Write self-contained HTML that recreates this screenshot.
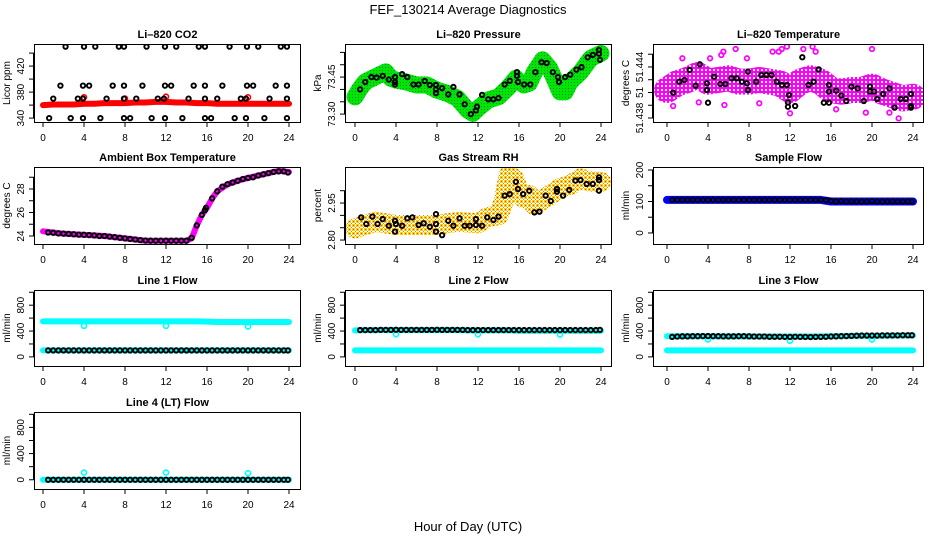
<!DOCTYPE html>
<html><head><meta charset="utf-8"><style>
body{margin:0;background:#fff;}
svg{display:block;font-family:"Liberation Sans",Arial,sans-serif;}
</style></head><body>
<svg id="chart" width="936" height="540" viewBox="0 0 936 540">
<defs>
<pattern id="pgreen" width="3" height="3" patternUnits="userSpaceOnUse"><rect width="3" height="3" fill="#00e600"/><rect x="1" y="1" width="1" height="1" fill="#084"/></pattern>
<pattern id="porange" width="4" height="4" patternUnits="userSpaceOnUse"><rect width="4" height="4" fill="#fff"/><rect x="0" y="0" width="3" height="3" fill="#ffcc00"/><rect x="1" y="1" width="1" height="1" fill="#ff4000"/><rect x="3" y="3" width="1" height="1" fill="#f08000"/></pattern>
<pattern id="ppink" width="4" height="4" patternUnits="userSpaceOnUse"><rect width="4" height="4" fill="#ff00ff"/><rect x="1" y="1" width="2" height="2" fill="#fff"/></pattern>
</defs>
<text x="468" y="14" text-anchor="middle" font-size="13">FEF_130214  Average Diagnostics</text>
<text x="468" y="531" text-anchor="middle" font-size="13">Hour of Day (UTC)</text>
</svg>
<script>
// ---- data ----
const HX=[0,1,2,3,4,5,6,7,8,9,10,11,12,13,14,15,16,17,18,19,20,21,22,23,24];
const co2Band=[360,361,361,361,362,362,363,363,363,364,364,365,365,364,364,363,363,362,362,362,362,362,362,362,362];
const co2BlkX=[2.2,4,5.1,7.4,7.9,10.1,11.9,13,15.2,15.8,18.2,19.9,21,23.2,23.8,1.7,3.9,4.5,6.8,7.9,9.7,11.9,12.5,14.7,15.8,17.5,19.9,20.5,22.7,23.8,1,3.4,3.9,6.2,7.9,9.1,11.2,11.8,14.2,15.8,17,19.3,19.8,22.1,23.8,0.6,2.7,3.9,5.6,7.9,8.5,10.6,11.9,13.6,15.8,16.4,18.7,19.8,21.6,23.8];
const co2BlkY=[450,450,450,450,450,450,450,450,450,450,450,450,450,450,450,390,390,390,390,390,390,390,390,390,390,390,390,390,390,390,370,370,370,370,370,370,370,370,370,370,370,370,370,370,370,340,340,340,340,340,340,340,340,340,340,340,340,340,340,340];
const co2SpikeX=[4,8,12,20];
const co2SpikeY=[372,370,373,372];
const presBandX=[0,0.5,1,2,3,3.5,4,5,6,7,8,9,10,11,11.5,12,13,14,15,15.7,16,16.5,17,17.5,18.3,19,19.5,20,20.5,21,22,23,24];
const presBand=[73.37,73.404,73.431,73.451,73.471,73.445,73.438,73.43,73.418,73.418,73.397,73.384,73.364,73.316,73.303,73.323,73.357,73.37,73.41,73.445,73.43,73.418,73.425,73.47,73.52,73.485,73.438,73.39,73.39,73.431,73.47,73.526,73.546];
const presBlkX=[0.5,1,1.6,2.1,2.7,3.3,3.9,3.9,3.9,4.6,5.1,5.7,6.2,6.8,7.3,7.9,7.9,7.9,8.5,9.1,9.6,10.2,10.7,11.3,11.8,11.9,12.4,13,13.5,14,14.6,15.1,15.8,15.8,15.9,16.5,17.1,17.6,18.2,18.7,19.3,19.8,19.9,20.5,21,21.6,22.1,22.7,23.2,23.8,23.8,23.9];
const presBlkY=[73.40,73.43,73.45,73.448,73.455,73.44,73.45,73.43,73.42,73.462,73.45,73.42,73.42,73.434,73.418,73.418,73.40,73.385,73.405,73.38,73.41,73.38,73.34,73.30,73.315,73.33,73.378,73.36,73.36,73.365,73.42,73.435,73.47,73.455,73.43,73.42,73.42,73.47,73.51,73.507,73.47,73.45,73.43,73.45,73.46,73.48,73.49,73.53,73.54,73.56,73.545,73.52];
const tempBand=[51.44129,51.44208,51.44247,51.44306,51.44227,51.44247,51.44267,51.44227,51.44227,51.44247,51.44227,51.44208,51.44129,51.44227,51.44267,51.44227,51.44129,51.4411,51.44129,51.44129,51.44169,51.4411,51.4407,51.44031,51.4405];
const tempPinkX=[1.5,4.2,5.5,5.3,6.7,7.8,10.3,10.9,11.2,11.7,13.3,14.2,14.5,20,12,19.4,21.7,0.6,3.1,16.5,22.6,9,5.6];
const tempPinkY=[51.44502,51.44502,51.4458,51.44541,51.44611,51.44502,51.4458,51.4458,51.44611,51.44639,51.44611,51.44639,51.4458,51.44611,51.43855,51.43863,51.43863,51.43941,51.43984,51.43902,51.43796,51.43973,51.43953];
const tempBlkX=[0.6,1.2,1.7,2.2,2.8,3.2,3.9,4,3.9,4.6,5.2,5.7,6.3,6.8,7.3,7.8,7.9,7.9,8.7,9.2,9.7,10.2,10.7,11.2,11.7,11.9,11.8,11.8,12.5,13.2,13.8,14.3,14.8,15.3,15.8,15.8,15.8,16.5,17,17.5,18,18.6,19.2,19.8,19.8,20.2,20.5,21.1,21.7,22.2,22.8,23.3,23.8,23.8,23.8];
const tempBlkY=[51.44098,51.44227,51.44247,51.44365,51.4418,51.44431,51.44129,51.4398,51.44208,51.44286,51.442,51.442,51.44267,51.44267,51.44227,51.44208,51.44129,51.44345,51.44227,51.44306,51.44306,51.44306,51.44227,51.44188,51.44188,51.4407,51.43984,51.43933,51.43941,51.44514,51.44188,51.44227,51.44372,51.4398,51.44188,51.4411,51.4398,51.44122,51.44063,51.44,51.44169,51.44149,51.44,51.44169,51.4411,51.4411,51.44023,51.44082,51.44149,51.43922,51.44023,51.44023,51.44082,51.43941,51.43922];
const ambX=[0,1,2,3,4,5,6,7,8,9,10,11,12,13,14,14.5,15,15.5,16,16.5,17,18,19,20,21,22,23,24];
const ambBand=[24.4,24.3,24.2,24.15,24.1,24.05,24.0,23.9,23.8,23.7,23.6,23.6,23.6,23.6,23.6,23.8,24.9,25.8,26.4,27.2,27.8,28.4,28.7,28.94,29.15,29.35,29.55,29.45];
const ambBlkX=[0.5,1,1.5,2,2.5,3,3.5,4,4.5,5,5.5,6,6.5,7,7.5,8,8.5,9,9.5,10,10.5,11,11.5,12,12.5,13,13.5,14,14.5,15,15.5,15.8,15.9,16.5,17,17.5,18,18.5,19,19.5,20,20.5,21,21.5,22,22.5,23,23.5,23.9];
const ambBlkY=[24.3,24.28,24.22,24.2,24.18,24.15,24.12,24.1,24.08,24.05,24.0,24.0,23.95,23.9,23.85,23.8,23.75,23.7,23.65,23.62,23.6,23.6,23.6,23.6,23.6,23.6,23.6,23.6,23.85,24.9,25.8,26.2,26.4,27.2,27.8,28.2,28.4,28.55,28.7,28.85,28.94,29.0,29.15,29.25,29.35,29.45,29.5,29.5,29.4];
const rhX=[0,1,2,4,6,8,9,10,12,13,14,14.5,15,15.5,16,16.5,17,17.5,18,19,20,21,22,23,24];
const rhBand=[2.847,2.861,2.874,2.861,2.861,2.861,2.868,2.874,2.868,2.894,2.901,2.955,3.063,3.05,2.996,2.969,2.982,2.942,2.955,2.982,3.01,3.023,3.05,3.036,3.036];
const rhBlkX=[0.6,1.1,1.7,2.2,2.7,3.3,3.9,3.9,4,4.6,5.1,5.6,6.2,6.7,7.3,7.9,7.9,7.9,8.5,9.1,9.6,10.2,10.7,11.2,11.8,11.8,12.4,12.9,13.5,14,14.6,15.1,15.7,15.9,16.4,17,17.5,18,18.6,19.1,19.7,19.7,20.3,20.9,21.5,22,22.6,23.2,23.8,23.8,23.8];
const rhBlkY=[2.892,2.865,2.895,2.865,2.885,2.858,2.878,2.834,2.865,2.858,2.888,2.892,2.861,2.868,2.854,2.905,2.865,2.834,2.82,2.878,2.858,2.888,2.858,2.858,2.885,2.861,2.858,2.892,2.881,2.895,2.98,2.986,3.036,3.007,2.986,3.0,2.912,2.915,2.98,2.958,3.007,2.996,2.98,3.003,3.041,3.043,3.027,3.027,3.054,3.043,3.0];
const flowX=[0.5,1,1.5,2,2.5,3,3.5,4,4.5,5,5.5,6,6.5,7,7.5,8,8.5,9,9.5,10,10.5,11,11.5,12,12.5,13,13.5,14,14.5,15,15.5,16,16.5,17,17.5,18,18.5,19,19.5,20,20.5,21,21.5,22,22.5,23,23.5,23.9];
const sampleBand=[105,105,105,105,105,105,105,105,105,105,105,105,105,105,105,105,100,100,100,100,100,100,100,100,100];
const sampleBlk=[105,105,105,105,105,105,105,105,105,105,105,105,105,105,105,105,105,105,105,105,105,105,105,105,105,105,105,105,105,105,104,102,100,101,100,100,100,100,100,101,100,100,100,100,100,100,100,100];
const line1Hi=[550,550,550,550,550,550,550,550,550,550,550,550,550,550,550,550,545,540,540,540,538,540,540,540,540];
const line1Lo=[100,100,100,100,100,100,100,100,100,100,100,100,100,100,100,100,100,100,100,100,100,100,100,100,100];
const line1Blk=[100,100,100,100,100,100,100,100,100,100,100,100,100,100,100,100,100,100,100,100,100,100,100,100,100,100,100,100,100,100,100,100,100,100,100,100,100,100,100,100,100,100,100,100,100,100,100,100];
const line1DipX=[4,12,20];
const line1DipY=[480,480,470];
const line2Hi=[410,415,415,415,415,415,415,415,415,415,415,410,410,410,410,410,405,405,405,405,405,405,405,405,405];
const line2Lo=[100,100,100,100,100,100,100,100,100,100,100,100,100,100,100,100,100,100,100,100,100,100,100,100,100];
const line2Blk=[415,415,415,415,418,418,418,420,418,418,418,418,418,418,418,420,418,418,418,418,418,415,415,415,415,415,415,415,415,415,415,415,415,415,415,415,415,415,415,415,415,415,415,415,415,415,415,418];
const line2DipX=[4,12,20];
const line2DipY=[350,350,345];
const line3Hi=[320,320,320,320,320,318,318,318,318,315,315,315,315,315,315,318,320,322,325,325,325,328,330,330,330];
const line3Lo=[100,100,100,100,100,100,100,100,100,100,100,100,100,100,100,100,100,100,100,100,100,100,100,100,100];
const line3Blk=[310,315,318,318,320,320,322,322,320,320,318,318,318,320,320,318,315,315,315,312,312,312,310,310,312,310,310,308,310,310,312,315,318,320,322,325,328,330,330,330,330,332,332,332,332,335,335,335];
const line3DipX=[4,12,20];
const line3DipY=[270,250,270];
const line4Band=[0,0,0,0,0,0,0,0,0,0,0,0,0,0,0,0,0,0,0,0,0,0,0,0,0];
const line4Blk=[0,0,0,0,0,0,0,0,0,0,0,0,0,0,0,0,0,0,0,0,0,0,0,0,0,0,0,0,0,0,0,0,0,0,0,0,0,0,0,0,0,0,0,0,0,0,0,0];
const line4SpikeX=[4,12,20];
const line4SpikeY=[110,110,100];
const xTicks=[0,4,8,12,16,20,24];

// ---- layout ----
const NS='http://www.w3.org/2000/svg';
const svg=document.getElementById('chart');
const cols=[{l:34,r:301,x0:43,x24:289},{l:345,r:612,x0:355,x24:601},{l:653,r:924,x0:667,x24:913}];
const rows=[{t:44,b:122},{t:167,b:244},{t:290,b:366},{t:412,b:489}];
function el(tag,attrs,parent){const e=document.createElementNS(NS,tag);for(const k in attrs)e.setAttribute(k,attrs[k]);(parent||svg).appendChild(e);return e;}

function panel(name,title,ylab,ci,ri,ymin,ymax,ticks,labels){
  const c=cols[ci],r=rows[ri];
  const g=el('g',{});
  
  
  const sx=h=>c.x0+h/24*(c.x24-c.x0);
  const sy=v=>r.b-(v-ymin)/(ymax-ymin)*(r.b-r.t);
  const t=el('text',{x:(c.l+c.r)/2,y:r.t-6,'text-anchor':'middle','font-size':11,'font-weight':'bold'},g);
  t.textContent=title;
  
  
  const yl=el('text',{x:0,y:0,transform:`translate(${c.l-24},${(r.t+r.b)/2}) rotate(-90)`,'text-anchor':'middle','font-size':10},g);
  yl.textContent=ylab;
  
  
  const xa=el('g',{stroke:'#000','stroke-width':1},g);
  
  
  el('line',{x1:sx(0),x2:sx(24),y1:r.b+0.5,y2:r.b+0.5},xa);
  xTicks.forEach(h=>{
    el('line',{x1:sx(h),x2:sx(h),y1:r.b,y2:r.b+5},xa);
    const tl=el('text',{x:sx(h),y:r.b+19,'text-anchor':'middle','font-size':10,stroke:'none'},xa);
    tl.textContent=String(h);
    
    
  });
  const ya=el('g',{stroke:'#000','stroke-width':1},g);
  
  
  el('line',{x1:c.l-0.5,x2:c.l-0.5,y1:sy(ticks[0]),y2:sy(ticks[ticks.length-1])},ya);
  ticks.forEach((v,i)=>{
    el('line',{x1:c.l,x2:c.l-5,y1:sy(v),y2:sy(v)},ya);
    if(labels[i]){
      const tl=el('text',{x:0,y:0,transform:`translate(${c.l-10},${sy(v)}) rotate(-90)`,'text-anchor':'middle','font-size':10,stroke:'none'},ya);
      tl.textContent=labels[i];
      
      
    }
  });
  const clip=el('clipPath',{id:'clip-'+name},g);
  el('rect',{x:c.l,y:r.t,width:c.r-c.l,height:r.b-r.t},clip);
  const plot=el('g',{'clip-path':`url(#clip-${name})`},g);
  
  
  const box=el('rect',{x:c.l+0.5,y:r.t+0.5,width:c.r-c.l-1,height:r.b-r.t,fill:'none',stroke:'#000','stroke-width':1},g);
  
  
  return {plot,sx,sy};
}
function band(p,name,xs,ys,color,w){
  const pts=xs.map((x,i)=>p.sx(x)+','+p.sy(ys[i])).join(' ');
  const e=el('polyline',{points:pts,fill:'none',stroke:color,'stroke-width':w,'stroke-linejoin':'round','stroke-linecap':'round'},p.plot);
  
  
}
function pts(p,name,xs,ys,color,rad,sw){
  const g=el('g',{fill:'none',stroke:color,'stroke-width':sw},p.plot);
  
  
  xs.forEach((x,i)=>{
    const c=el('circle',{cx:p.sx(x),cy:p.sy(ys[i]),r:rad},g);
    
    
  });
}
const flowTicks=[0,200,400,600,800,1000], flowLabels=['0','','400','','800',''];

// Li-820 CO2
let p=panel('co2','Li\u2013820 CO2','Licor ppm',0,0,334,454,[340,360,380,400,420,440],['340','','380','','420','']);
band(p,'co2-band',HX,co2Band,'#ff0000',6);
pts(p,'co2-spikes',co2SpikeX,co2SpikeY,'#ff0000',2.5,1.6);
pts(p,'co2-hourly-points',co2BlkX,co2BlkY,'#000',2.2,1.9);
// Pressure
p=panel('pressure','Li\u2013820 Pressure','kPa',1,0,73.268,73.584,[73.30,73.35,73.40,73.45,73.50,73.55],['73.30','','','73.45','','']);
band(p,'pressure-band',presBandX,presBand,'url(#pgreen)',17);
pts(p,'pressure-hourly-points',presBlkX,presBlkY,'#000',2.2,1.9);
// Temperature
p=panel('li820-temp','Li\u2013820 Temperature','degrees C',2,0,51.43753,51.4467,[51.438,51.4395,51.441,51.4425,51.444,51.4455],['51.438','','51','','51.444','']);
band(p,'temp-band',HX,tempBand,'url(#ppink)',26);
pts(p,'temp-scatter',tempPinkX,tempPinkY,'#ff00ff',2.3,1.7);
pts(p,'temp-hourly-points',tempBlkX,tempBlkY,'#000',2.2,1.9);
// Ambient
p=panel('ambient-temp','Ambient Box Temperature','degrees C',0,1,23.32,29.87,[24,25,26,27,28,29],['24','','26','','28','']);
band(p,'ambient-band',ambX,ambBand,'#ff00ff',6);
pts(p,'ambient-hourly-points',ambBlkX,ambBlkY,'#000',2.2,1.9);
// RH
p=panel('gas-rh','Gas Stream RH','percent',1,1,2.784,3.096,[2.80,2.85,2.90,2.95,3.00],['2.80','','','2.95','']);
band(p,'rh-band',rhX,rhBand,'url(#porange)',20);
pts(p,'rh-hourly-points',rhBlkX,rhBlkY,'#000',2.2,1.9);
// Sample flow
p=panel('sample-flow','Sample Flow','ml/min',2,1,-35,209.5,[0,50,100,150,200],['0','','100','','200']);
band(p,'sample-band',HX,sampleBand,'#0000ff',8);
pts(p,'sample-hourly-points',flowX,sampleBlk,'#000',2.2,1.9);
// Line 1
p=panel('line1','Line 1 Flow','ml/min',0,2,-141,1035,flowTicks,flowLabels);
band(p,'line1-high-band',HX,line1Hi,'#00ffff',6);
band(p,'line1-low-band',HX,line1Lo,'#00ffff',6);
pts(p,'line1-dips',line1DipX,line1DipY,'#00ffff',2.5,1.6);
pts(p,'line1-hourly-points',flowX,line1Blk,'#000',2.2,1.9);
// Line 2
p=panel('line2','Line 2 Flow','ml/min',1,2,-141,1035,flowTicks,flowLabels);
band(p,'line2-high-band',HX,line2Hi,'#00ffff',6);
band(p,'line2-low-band',HX,line2Lo,'#00ffff',6);
pts(p,'line2-dips',line2DipX,line2DipY,'#00ffff',2.5,1.6);
pts(p,'line2-hourly-points',flowX,line2Blk,'#000',2.2,1.9);
// Line 3
p=panel('line3','Line 3 Flow','ml/min',2,2,-141,1035,flowTicks,flowLabels);
band(p,'line3-high-band',HX,line3Hi,'#00ffff',6);
band(p,'line3-low-band',HX,line3Lo,'#00ffff',6);
pts(p,'line3-dips',line3DipX,line3DipY,'#00ffff',2.5,1.6);
pts(p,'line3-hourly-points',flowX,line3Blk,'#000',2.2,1.9);
// Line 4
p=panel('line4','Line 4 (LT) Flow','ml/min',0,3,-141,1035,flowTicks,flowLabels);
band(p,'line4-band',HX,line4Band,'#00ffff',6);
pts(p,'line4-spikes',line4SpikeX,line4SpikeY,'#00ffff',2.5,1.6);
pts(p,'line4-hourly-points',flowX,line4Blk,'#000',2.2,1.9);
</script>
</body></html>
